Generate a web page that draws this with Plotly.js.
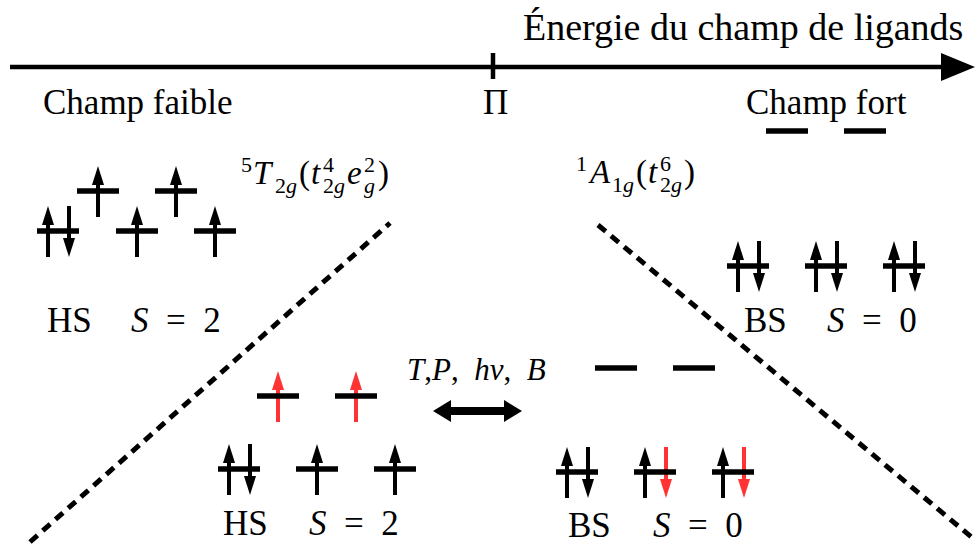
<!DOCTYPE html>
<html><head><meta charset="utf-8">
<script src="https://cdn.plot.ly/plotly-3.0.1.min.js"></script>
<style>html,body{margin:0;padding:0;background:#fff;}
#chart{width:978px;height:545px;}
#chart text{font-family:'Liberation Serif', serif !important;}</style>
</head><body><div id="chart"></div>
<script>
// ---- Diagram content (groups: top-left HS, top-right BS, bottom-left HS, bottom-right BS)
const groupLabels = ['HS', 'BS', 'HS', 'BS'];
const spinValues = ['2', '0', '2', '0'];
const t2gX = [[58, 137, 215], [748, 826, 904], [239, 317, 395], [577, 655, 733]];
const t2gY = [231, 266, 469, 472];
const egX = [[98, 176], [787, 865], [278, 356], [616, 694]];
const egY = [191, 131, 396, 368];
// u = up (black), d = down (black), U = up (red), D = down (red)
const t2gOcc = [['ud', 'u', 'u'], ['ud', 'ud', 'ud'], ['ud', 'u', 'u'], ['ud', 'uD', 'uD']];
const egOcc = [['u', 'u'], ['', ''], ['U', 'U'], ['', '']];
const groupLabelX = [69, 765, 245, 589];
const spinLabelX = [176, 872, 354, 698];
const labelY = [320, 320, 523, 525];

const axisTitle = 'Énergie du champ de ligands';
const weakLabel = 'Champ faible';
const strongLabel = 'Champ fort';
const pairingLabel = 'Π';
const stimuliLabel = '<i>T</i>,<i>P</i>,\u2002<i>hν</i>,\u2002<i>B</i>';
// term symbols as pieces: [text, x, role]
const termHS = [['5', 239, 'sup'], ['<i>T</i>', 251, 'main'], ['2<i>g</i>', 273, 'sub'], ['(', 297, 'main'],
  ['<i>t</i>', 309, 'main'], ['4', 321, 'sup'], ['2<i>g</i>', 321, 'sub'], ['<i>e</i>', 345, 'main'],
  ['2', 362, 'sup'], ['<i>g</i>', 362, 'sub'], [')', 376, 'main']];
const termLS = [['1', 574, 'sup'], ['<i>A</i>', 586, 'main'], ['1<i>g</i>', 610, 'sub'], ['(', 634, 'main'],
  ['<i>t</i>', 646, 'main'], ['6', 658, 'sup'], ['2<i>g</i>', 658, 'sub'], [')', 682, 'main']];

const BLACK = '#000000', RED = '#ff3333';
const FONT = 'Liberation Serif';
const shapes = [], annotations = [];

function addLine(x0, y0, x1, y1, w, color, dash) {
  shapes.push({type: 'line', xref: 'x', yref: 'y', x0, y0, x1, y1,
    line: {width: w, color: color || BLACK, dash: dash || 'solid'}});
}
function addTri(pts, color) {
  const d = 'M ' + pts.map(p => p[0] + ',' + p[1]).join(' L ') + ' Z';
  shapes.push({type: 'path', xref: 'x', yref: 'y', path: d, fillcolor: color, line: {width: 0, color: color}});
}
function addSpin(x, cy, up, color) {
  const top = cy - 25, bot = cy + 26, hl = 19, hw = 6;
  if (up) {
    addLine(x, bot, x, top + hl - 2, 4, color);
    addTri([[x, top], [x - hw, top + hl], [x + hw, top + hl]], color);
  } else {
    addLine(x, top, x, bot - hl + 2, 4, color);
    addTri([[x, bot], [x - hw, bot - hl], [x + hw, bot - hl]], color);
  }
}
function occupy(cx, cy, occ) {
  if (occ.length === 1) {
    addSpin(cx, cy, occ.toLowerCase() === 'u', occ === occ.toUpperCase() ? RED : BLACK);
  } else if (occ.length === 2) {
    addSpin(cx - 10, cy, true, occ[0] === 'U' ? RED : BLACK);
    addSpin(cx + 11, cy, false, occ[1] === 'D' ? RED : BLACK);
  }
}
function addLevel(cx, cy) { addLine(cx - 21, cy, cx + 21, cy, 5.5, BLACK); }
function addText(t, x, y, sz, anchor) {
  annotations.push({xref: 'x', yref: 'y', x: x, y: y, text: t, showarrow: false,
    xanchor: anchor || 'center', yanchor: 'middle', font: {family: FONT, size: sz, color: BLACK}});
}

// main energy axis
addLine(10, 67, 946, 67, 4.5);
addTri([[941, 53], [975, 67], [941, 81]], BLACK);
addLine(493, 53, 493, 79, 4.5);
addText(axisTitle, 743, 27, 38);
addText(weakLabel, 138, 102, 35);
addText(pairingLabel, 495, 102, 35);
addText(strongLabel, 826, 102, 35);

// crossing dashed lines
addLine(30, 542, 390, 223, 5, BLACK, '10px,7px');
addLine(598, 225, 975, 540, 5, BLACK, '10px,7px');

// orbitals + electrons
for (let g = 0; g < 4; g++) {
  t2gX[g].forEach((x, i) => occupy(x, t2gY[g], t2gOcc[g][i]));
  egX[g].forEach((x, i) => occupy(x, egY[g], egOcc[g][i]));
  t2gX[g].forEach(x => addLevel(x, t2gY[g]));
  egX[g].forEach(x => addLevel(x, egY[g]));
  addText(groupLabels[g], groupLabelX[g], labelY[g], 35);
  addText('<i>S</i>\u2002=\u2002' + spinValues[g], spinLabelX[g], labelY[g], 35);
}

// term symbols
function addTerm(pieces, yMain) {
  pieces.forEach(([t, x, role]) => {
    const sz = role === 'main' ? 33 : 22;
    const y = role === 'main' ? yMain : (role === 'sup' ? yMain - 9 : yMain + 12);
    addText(t, x, y, sz, 'left');
  });
}
addTerm(termHS, 173);
addTerm(termLS, 172);

// stimuli and double arrow
addText(stimuliLabel, 476, 369, 31);
addLine(448, 411, 507, 411, 8);
addTri([[433, 411], [451, 400], [451, 422]], BLACK);
addTri([[522, 411], [504, 400], [504, 422]], BLACK);

const layout = {
  width: 978, height: 545, margin: {l: 0, r: 0, t: 0, b: 0},
  paper_bgcolor: '#ffffff', plot_bgcolor: '#ffffff', showlegend: false,
  font: {family: FONT, color: BLACK},
  xaxis: {range: [0, 978], visible: false, fixedrange: true},
  yaxis: {range: [545, 0], visible: false, fixedrange: true},
  shapes: shapes, annotations: annotations
};
Plotly.newPlot('chart', [{x: [], y: [], type: 'scatter', mode: 'markers', hoverinfo: 'skip'}], layout,
  {staticPlot: true, displayModeBar: false}).then(gd => {
  gd.querySelectorAll('text').forEach(el => { el.style.fontFamily = "'Liberation Serif', serif"; });
});
</script></body></html>
